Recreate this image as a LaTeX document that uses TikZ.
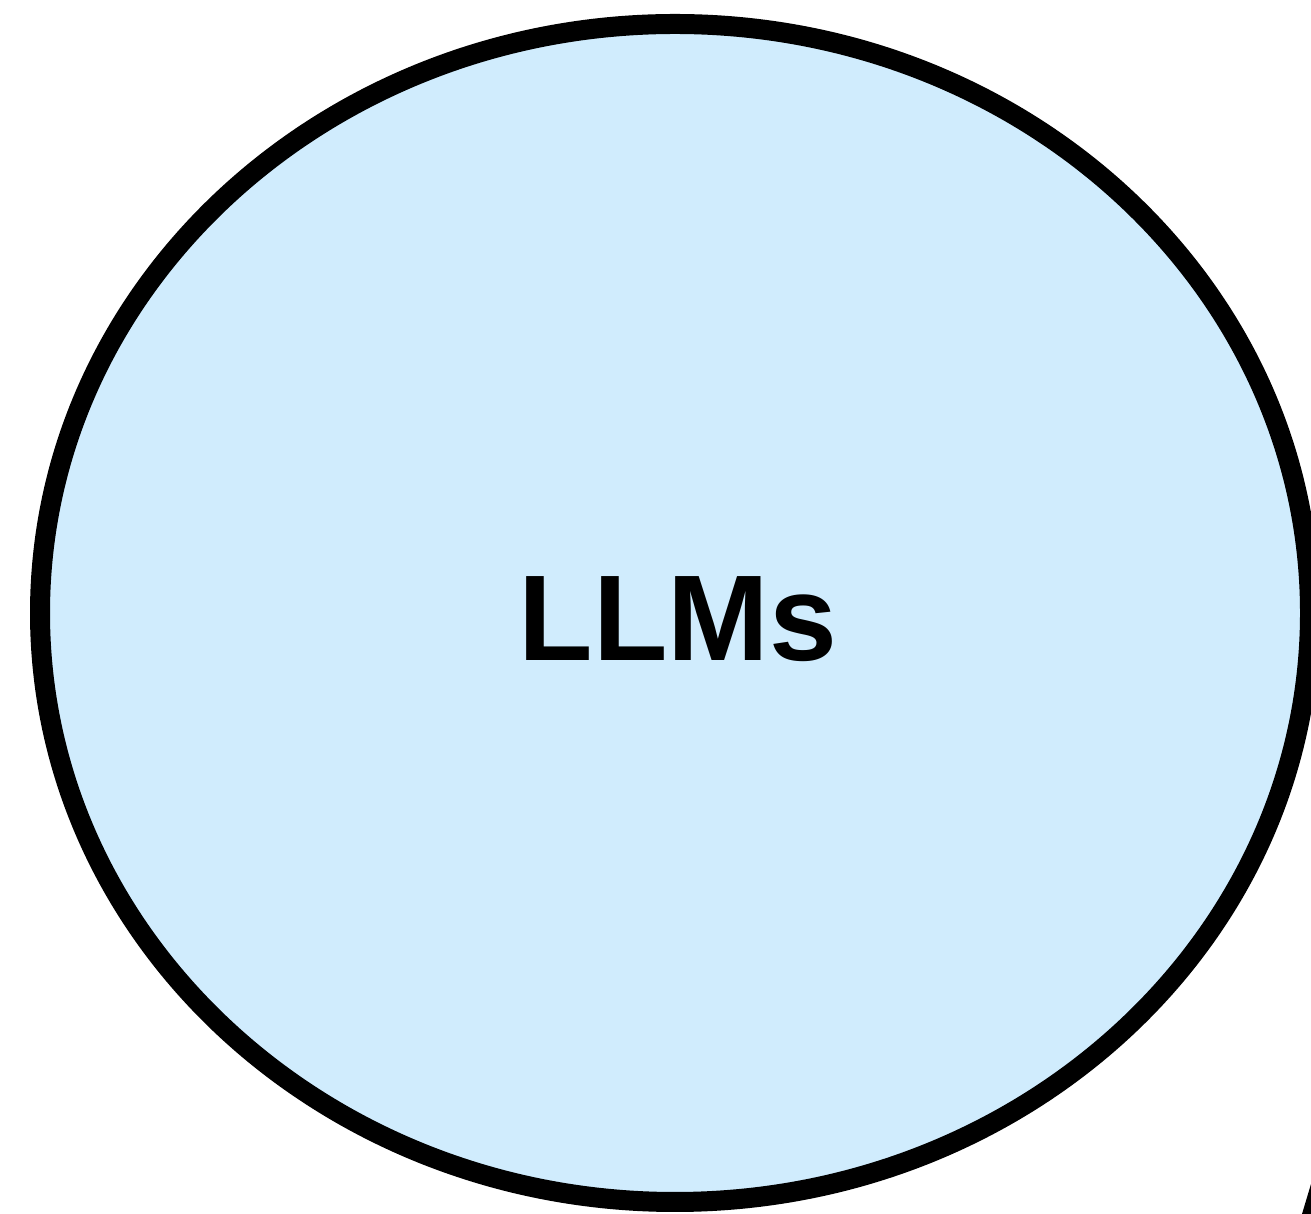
\documentclass[tikz,border=0pt]{standalone}
\usepackage{fontspec}
\setmainfont{Liberation Sans}
\definecolor{llmblue}{RGB}{208,236,253}
\tikzset{
  llmellipse/.style={draw=black, line width=20pt, fill=llmblue},
  llmlabel/.style={font=\bfseries\fontsize{122}{122}\selectfont, text=black, anchor=base, inner sep=0pt}
}
\begin{document}
\begin{tikzpicture}[x=1pt,y=1pt]
\useasboundingbox (0,0) rectangle (1311,1214);
\path[clip] (0,0) rectangle (1311,1214);
\draw[llmellipse] (675,601) ellipse [x radius=635, y radius=589];
\node[llmlabel] (llms) at (678,553) {LLMs};
\fill[black] (1302,0) -- (1311,0) -- (1311,30) -- cycle;
\end{tikzpicture}
\end{document}
